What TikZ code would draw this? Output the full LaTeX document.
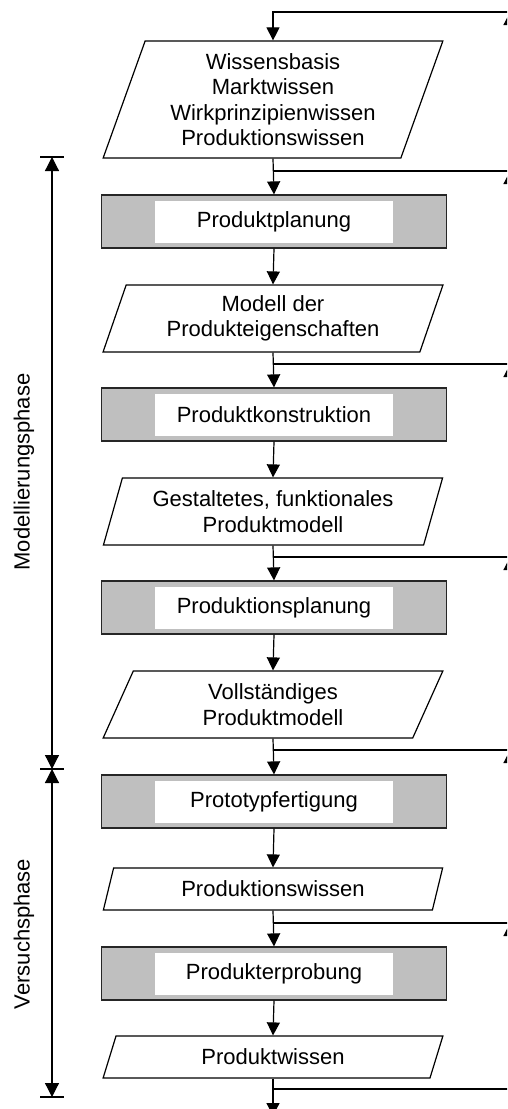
\documentclass[tikz,border=0pt]{standalone}
\usepackage{fontspec}
\setmainfont{Liberation Sans}
\usetikzlibrary{shapes.geometric,arrows.meta}
\begin{document}
\begin{tikzpicture}[x=1pt,y=-1pt,
  line width=1.2pt,
  txt/.style={font=\fontsize{22}{25.5}\selectfont},
  arr/.style={-{Triangle[width=13pt,length=13pt]}},
  phasearr/.style={{Triangle[width=14pt,length=14pt]}-{Triangle[width=14pt,length=14pt]}},
  dataio/.style={draw, fill=white, trapezium, trapezium left angle=70,
    trapezium right angle=110, trapezium stretches=true,
    minimum width=340pt, inner sep=0pt, align=center, txt},
  stepbox/.style={draw=black!85, fill=black!25, minimum width=345pt,
    minimum height=53pt, inner sep=0pt},
  steplabel/.style={fill=white, minimum width=238pt, minimum height=42pt,
    inner sep=0pt, txt},
  phase/.style={rotate=90, txt}
]
\useasboundingbox (0,0) rectangle (507,1109);
\clip (0,0) rectangle (507,1109);

% process chain
\node[dataio, minimum height=117pt] (p1) at (273,99.5)
  {Wissensbasis\\Marktwissen\\Wirkprinzipienwissen\\Produktionswissen};
\node[stepbox] (b1) at (274,221.5) {};
\node[steplabel] (b1t) at (b1) {Produktplanung};
\node[dataio, minimum height=67pt] (p2) at (273,318.5)
  {Modell der\\Produkteigenschaften};
\node[stepbox] (b2) at (274,414.5) {};
\node[steplabel] (b2t) at (b2) {Produktkonstruktion};
\node[dataio, minimum height=67pt] (p3) at (273,511.5)
  {Gestaltetes, funktionales\\Produktmodell};
\node[stepbox] (b3) at (274,607.5) {};
\node[steplabel] (b3t) at (b3) {Produktionsplanung};
\node[dataio, minimum height=67pt] (p4) at (273,704.5)
  {Vollständiges\\Produktmodell};
\node[stepbox] (b4) at (274,801.5) {};
\node[steplabel] (b4t) at (b4) {Prototypfertigung};
\node[dataio, minimum height=42pt] (p5) at (273,889) {Produktionswissen};
\node[stepbox] (b5) at (274,973.5) {};
\node[steplabel] (b5t) at (b5) {Produkterprobung};
\node[dataio, minimum height=42pt] (p6) at (273,1057) {Produktwissen};

% branch points and feedback stubs on the right
\coordinate (e0) at (512,12);
\foreach \n/\y in {1/171,2/364,3/557,4/750,5/923,6/1089}{
  \coordinate (j\n) at (273,\y);
  \coordinate (e\n) at (512,\y);
}
\foreach \n/\y in {0/12,1/171,2/364,3/557,4/750,5/923}{
  \coordinate (fs\n) at (510,\y+40);
  \coordinate (ft\n) at (510,\y);
  \draw[arr] (fs\n) -- (ft\n);
}
\coordinate (out) at (273,1116);

% flow
\draw[arr] (e0) -| (p1.north);
\draw[arr] (p1.center |- p1.south) -- (b1.north);
\draw[arr] (b1.south) -- (p2.center |- p2.north);
\draw[arr] (p2.center |- p2.south) -- (b2.north);
\draw[arr] (b2.south) -- (p3.center |- p3.north);
\draw[arr] (p3.center |- p3.south) -- (b3.north);
\draw[arr] (b3.south) -- (p4.center |- p4.north);
\draw[arr] (p4.center |- p4.south) -- (b4.north);
\draw[arr] (b4.south) -- (p5.center |- p5.north);
\draw[arr] (p5.center |- p5.south) -- (b5.north);
\draw[arr] (b5.south) -- (p6.center |- p6.north);
\draw[arr] (p6.center |- p6.south) -- (out);
\foreach \n in {1,...,6}{\draw (j\n) -- (e\n);}

% phases
\coordinate (m1) at (52,157);
\coordinate (m2) at (52,769);
\coordinate (m3) at (52,1097);
\foreach \m in {m1,m2,m3}{\draw (\m) ++(-12,0) -- ++(24,0);}
\draw[phasearr] (m1) -- (m2);
\draw[phasearr] (m2) -- (m3);
\node[phase] (ph1) at (24,472) {Modellierungsphase};
\node[phase] (ph2) at (24,934) {Versuchsphase};
\end{tikzpicture}
\end{document}
